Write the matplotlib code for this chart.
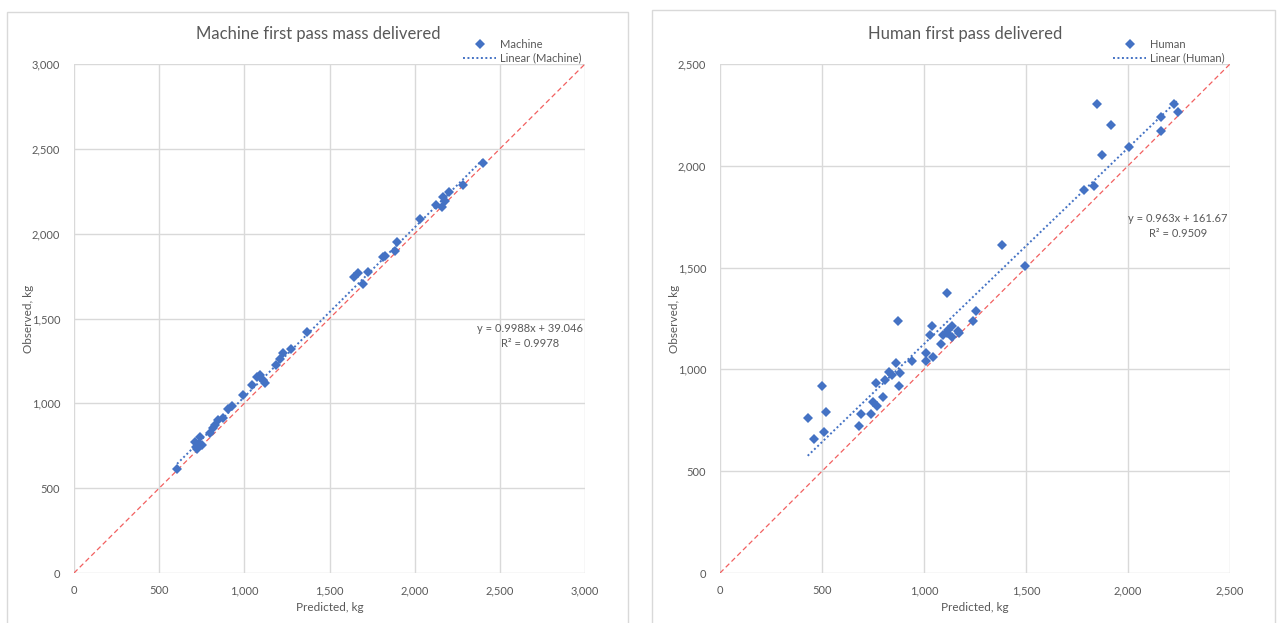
import matplotlib
matplotlib.use("Agg")
import matplotlib.pyplot as plt
from matplotlib.lines import Line2D
from matplotlib.patches import Rectangle
from matplotlib.ticker import FuncFormatter, MultipleLocator

plt.rcParams['font.family'] = ['Lato', 'DejaVu Sans']

# ---------------- data ----------------
machine_pred = [605, 710, 716, 736, 740, 749, 725, 798, 818, 828, 847, 876, 906, 925,
                994, 1043, 1074, 1092, 1111, 1121, 1186, 1209, 1229, 1272, 1366,
                1643, 1669, 1698, 1727, 1815, 1825, 1884, 1894, 2034, 2124, 2163,
                2167, 2177, 2203, 2285, 2402]
machine_obs = [612, 774, 744, 760, 803, 754, 730, 823, 852, 872, 901, 911, 964, 984,
               1049, 1108, 1155, 1167, 1137, 1118, 1226, 1259, 1298, 1318, 1418,
               1746, 1766, 1701, 1775, 1860, 1868, 1897, 1949, 2086, 2168, 2158,
               2217, 2194, 2247, 2287, 2418]
machine_slope, machine_intercept = 0.9988, 39.046
machine_eq = "y = 0.9988x + 39.046\nR² = 0.9978"

human_pred = [430, 461, 501, 510, 520, 681, 691, 740, 750, 771, 763, 801, 809, 830,
              841, 863, 871, 879, 882, 943, 1010, 1010, 1029, 1041, 1046, 1083,
              1095, 1111, 1114, 1119, 1136, 1136, 1165, 1171, 1242, 1253, 1384,
              1495, 1784, 1832, 1846, 1874, 1915, 2005, 2163, 2163, 2225, 2247]
human_obs = [760, 658, 920, 691, 791, 722, 779, 779, 838, 819, 932, 862, 948, 989,
             972, 1030, 1238, 918, 981, 1041, 1082, 1041, 1169, 1213, 1059, 1123,
             1169, 1377, 1180, 1194, 1213, 1161, 1190, 1180, 1238, 1288, 1611,
             1508, 1881, 1899, 2302, 2051, 2202, 2091, 2241, 2171, 2302, 2263]
human_slope, human_intercept = 0.963, 161.67
human_eq = "y = 0.963x + 161.67\nR² = 0.9509"

titles = ["Machine first pass mass delivered", "Human first pass delivered"]
series_names = ["Machine", "Human"]
axis_max = [3000, 2500]
x_label = "Predicted, kg"
y_label = "Observed, kg"

# ---------------- style ----------------
W, H = 1278, 623
TXT = '#595959'
GRID = '#d9d9d9'
BLUE = '#4472C4'
RED = '#f26060'

fig = plt.figure(figsize=(W / 100, H / 100), dpi=100)
fig.patch.set_facecolor('white')

def fx(px):
    return px / W

def fy(py):
    return 1 - py / H

# panel borders
for (x0, x1, y0) in [(7, 628, 12), (652, 1275, 10)]:
    fig.patches.append(Rectangle((fx(x0), fy(640)), fx(x1) - fx(x0), fy(y0) - fy(640),
                                 transform=fig.transFigure, fill=False,
                                 edgecolor=GRID, lw=1.0))

ax_boxes = [(74, 585), (720, 1230)]
title_x = [318, 965]
legend_x = [463, 1113]
eq_pos = [((530 - 74) / 511, (573 - 336) / 509), ((1178 - 720) / 510, (573 - 226) / 509)]

data = [(machine_pred, machine_obs, machine_slope, machine_intercept, machine_eq),
        (human_pred, human_obs, human_slope, human_intercept, human_eq)]

for i, (xp, yo, m, b, eq) in enumerate(data):
    l, r = ax_boxes[i]
    ax = fig.add_axes([fx(l), fy(573), fx(r) - fx(l), fy(64) - fy(573)])
    mx = axis_max[i]
    ax.set_xlim(0, mx)
    ax.set_ylim(0, mx)
    ax.xaxis.set_major_locator(MultipleLocator(500))
    ax.yaxis.set_major_locator(MultipleLocator(500))
    fmt = FuncFormatter(lambda v, p: f"{v:,.0f}")
    ax.xaxis.set_major_formatter(fmt)
    ax.yaxis.set_major_formatter(fmt)
    ax.grid(True, color=GRID, lw=1.0)
    ax.set_axisbelow(True)
    for s in ax.spines.values():
        s.set_visible(False)
    ax.tick_params(length=0, labelsize=8, colors=TXT)
    ax.tick_params(axis='y', pad=10)
    ax.tick_params(axis='x', pad=9)
    ax.set_xlabel(x_label, fontsize=8.5, color=TXT, labelpad=4)
    ax.set_ylabel(y_label, fontsize=8.5, color=TXT, labelpad=-2)

    # reference 1:1 line
    ax.plot([0, mx], [0, mx], color=RED, lw=0.9, dashes=(4, 2.5), zorder=2)
    # trend line
    x0, x1 = min(xp), max(xp)
    ax.plot([x0, x1], [m * x0 + b, m * x1 + b], color=BLUE, lw=1.4,
            linestyle=(0, (1, 1.3)), zorder=3)
    # points
    ax.plot(xp, yo, linestyle='none', marker='D', ms=5.2, color=BLUE,
            markeredgewidth=0, zorder=4)

    ax.text(eq_pos[i][0], eq_pos[i][1], eq, transform=ax.transAxes, ha='center',
            va='center', fontsize=8, color=TXT, linespacing=1.35)

    fig.text(fx(title_x[i]), fy(34), titles[i], ha='center', va='center',
             fontsize=12, color=TXT)

    handles = [Line2D([], [], linestyle='none', marker='D', ms=5.2, color=BLUE,
                      markeredgewidth=0),
               Line2D([], [], color=BLUE, lw=1.4, linestyle=(0, (1, 1.3)))]
    leg = ax.legend(handles, [series_names[i], f"Linear ({series_names[i]})"],
                    loc='upper left', bbox_to_anchor=(fx(legend_x[i]), fy(39)),
                    bbox_transform=fig.transFigure, frameon=False, fontsize=8,
                    handlelength=3.0, handletextpad=0.3, labelspacing=0.25,
                    borderpad=0, borderaxespad=0)
    for t in leg.get_texts():
        t.set_color(TXT)

fig.savefig("out.png", dpi=100, facecolor='white')
